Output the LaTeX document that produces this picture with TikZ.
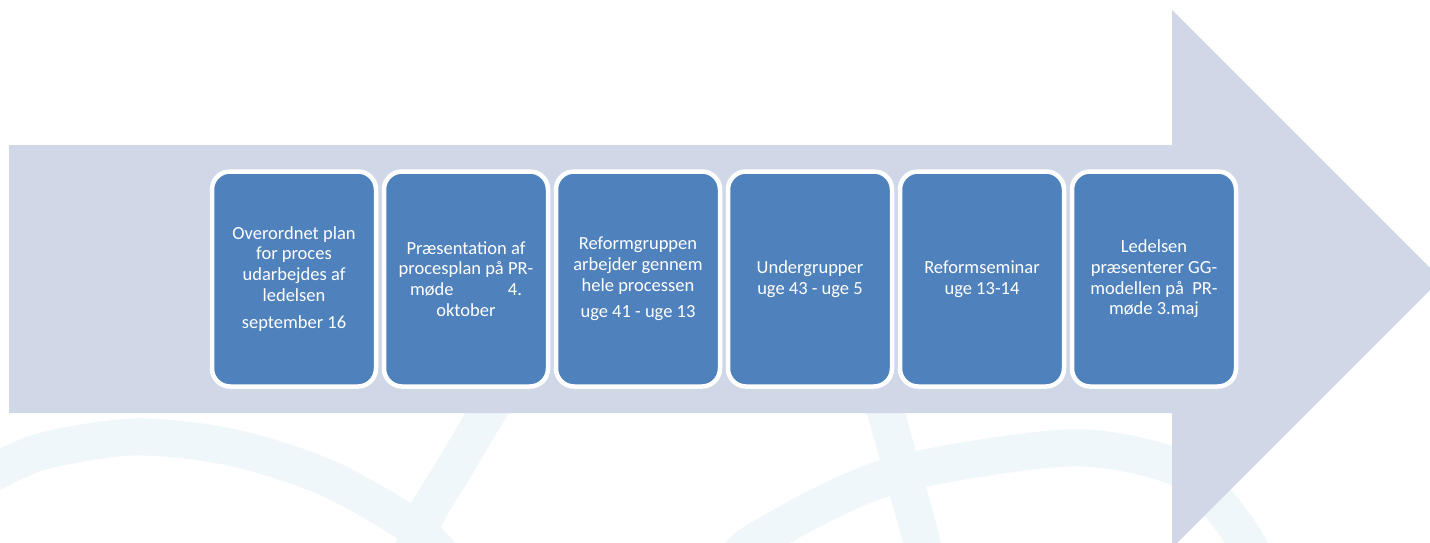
\documentclass[tikz,border=0pt]{standalone}
\usepackage{fontspec}
\setmainfont{Carlito}
\definecolor{boxblue}{RGB}{79,129,189}
\definecolor{arrowfill}{RGB}{208,216,232}
\definecolor{bandc}{RGB}{240,247,250}
\tikzset{
  stepbox/.style={draw=white, line width=4.5pt, fill=boxblue, rounded corners=18pt,
    minimum width=164pt, minimum height=215pt, inner sep=0pt, align=center,
    text=white, font=\fontsize{18.5}{20.7}\selectfont},
  band/.style={draw=bandc, line width=37pt, line cap=butt}
}
\begin{document}
\begin{tikzpicture}[x=1pt,y=-1pt]
\clip (0,0) rectangle (1430,543);
\fill[white] (0,0) rectangle (1430,543);
% faint background bands
\draw[band] plot[smooth] coordinates {(-20,480) (40,452) (134,437) (230,447) (325,477) (410,525) (450,565)};
\draw[band] plot[smooth] coordinates {(505,385) (487,413) (455,467) (425,517) (410,560)};
\draw[band] plot[smooth] coordinates {(880,390) (886,413) (902,470) (922,543) (926,570)};
\draw[band] plot[smooth] coordinates {(735,570) (753,543) (885,478) (1066,448) (1171,465) (1215,500) (1247,543) (1256,570)};
% big arrow
\fill[arrowfill] (9,145) -- (1172,145) -- (1172,10) -- (1441,279) -- (1172,548) -- (1172,413) -- (9,413) -- cycle;
% steps
\node[stepbox] (b1) at (294,279) {Overordnet plan\\for proces\\udarbejdes af\\ledelsen\\[7pt]september 16};
\node[stepbox] (b2) at (466,279) {Præsentation af\\procesplan på PR-\\\makebox[112pt]{møde\hfill 4.}\\oktober};
\node[stepbox] (b3) at (638,279) {Reformgruppen\\arbejder gennem\\hele processen\\[6pt]uge 41 - uge 13};
\node[stepbox] (b4) at (810,279) {Undergrupper\\uge 43 - uge 5};
\node[stepbox] (b5) at (982,279) {Reformseminar\\uge 13-14};
\node[stepbox] (b6) at (1154,279) {Ledelsen\\præsenterer GG-\\modellen på\ \ PR-\\møde 3.maj};
\end{tikzpicture}
\end{document}
